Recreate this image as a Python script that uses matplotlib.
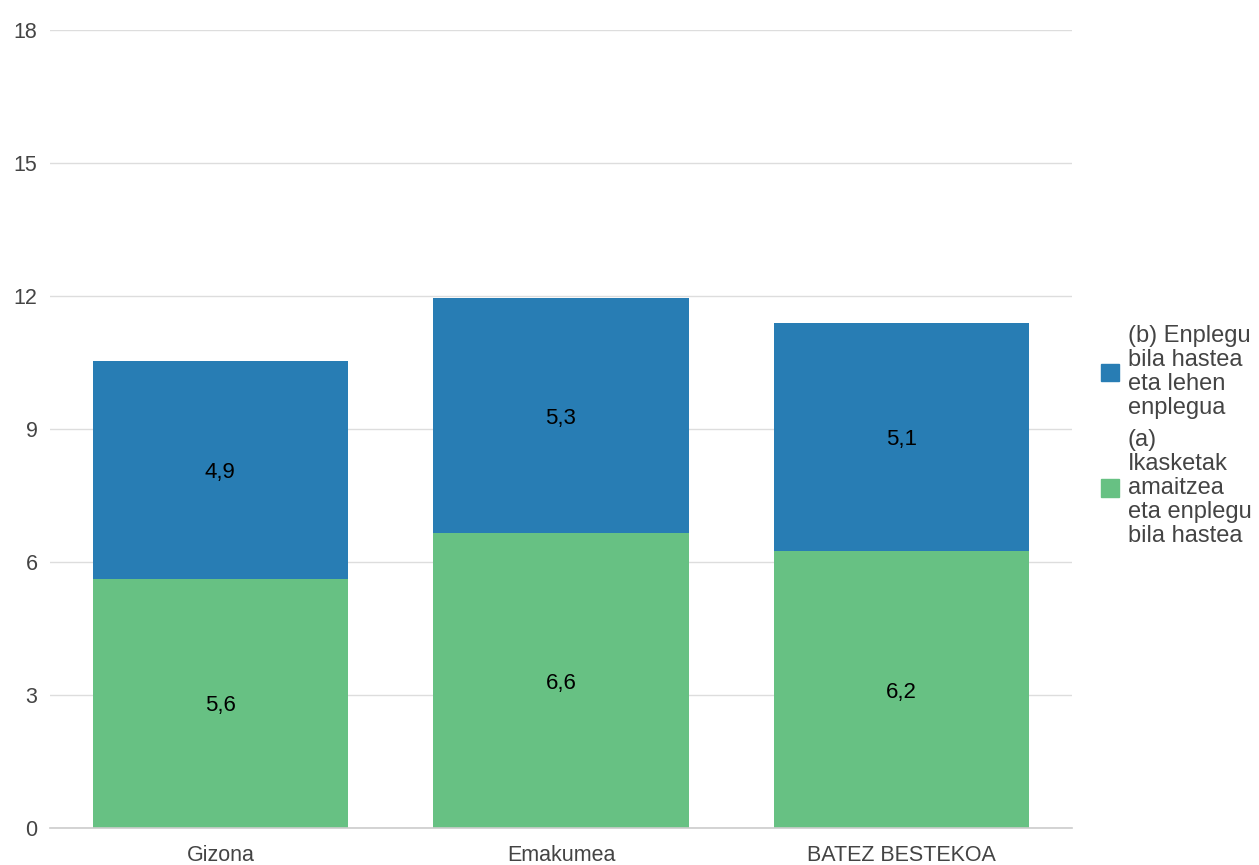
import matplotlib
matplotlib.use("Agg")
import matplotlib.pyplot as plt
from matplotlib.patches import Patch

plt.rcParams['font.family'] = ['Liberation Sans', 'DejaVu Sans']

categories = ["Gizona", "Emakumea", "BATEZ BESTEKOA"]
series_a = [5.62, 6.649, 6.24]
series_b = [4.91, 5.30, 5.14]
label_a = "(a)\nIkasketak\namaitzea\neta enplegu\nbila hastea"
label_b = "(b) Enplegu\nbila hastea\neta lehen\nenplegua"
yticks = [0, 3, 6, 9, 12, 15, 18]

col_a = "#67c183"
col_b = "#287db4"
txt = "#444444"

W, H = 1259, 865
fig = plt.figure(figsize=(W/100, H/100), dpi=100)
ax = fig.add_axes([50/W, 37/H, (1072-50)/W, (828-30)/H])

x = range(len(categories))
ax.bar(x, series_a, width=0.75, color=col_a, zorder=2)
ax.bar(x, series_b, width=0.75, bottom=series_a, color=col_b, zorder=2)

for i in x:
    ax.text(i, series_a[i]/2, f"{series_a[i]:.1f}".replace('.', ','), ha='center', va='center_baseline', fontsize=16, color='black', zorder=3)
    ax.text(i, series_a[i] + series_b[i]/2, f"{series_b[i]:.1f}".replace('.', ','), ha='center', va='center_baseline', fontsize=16, color='black', zorder=3)

ax.set_xlim(-0.5, 2.5)
ax.set_ylim(0, 18)
ax.set_yticks(yticks)
ax.set_yticklabels([str(t) for t in yticks])
ax.set_xticks(list(x))
ax.set_xticklabels(categories)
ax.grid(axis='y', color='#dddddd', linewidth=1, zorder=0)
for s in ['top', 'right', 'left']:
    ax.spines[s].set_visible(False)
ax.spines['bottom'].set_color('#cccccc')
ax.spines['bottom'].set_linewidth(1.2)
ax.tick_params(axis='both', length=0, labelsize=15.5, colors=txt)
ax.tick_params(axis='x', pad=12)
ax.tick_params(axis='y', pad=9)

handles = [Patch(color=col_b), Patch(color=col_a)]
leg = fig.legend(handles, [label_b, label_a], loc='center left', bbox_to_anchor=(1089/W, 1 - 436/H),
                 frameon=False, fontsize=17, handlelength=0.75, handleheight=0.75, handletextpad=0.4,
                 labelspacing=0.4, labelcolor=txt, borderpad=0)
for t in leg.get_texts():
    t.set_linespacing(1.12)

fig.savefig("out.png", dpi=100)
